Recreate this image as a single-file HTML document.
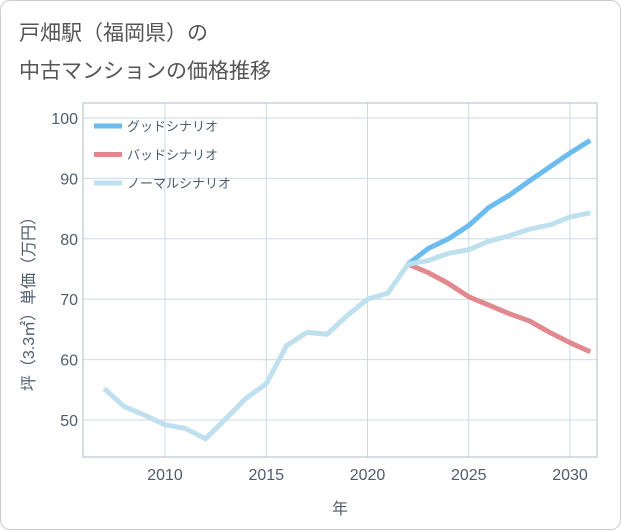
<!DOCTYPE html>
<html><head><meta charset="utf-8"><style>
body{margin:0;background:#fff;}
#c{position:relative;width:619px;height:528px;border:1px solid #ccc;border-radius:10px;background:#fff;overflow:hidden;font-family:"Liberation Sans","Noto Sans CJK JP",sans-serif;}
.t{position:absolute;left:18px;color:#555;font-size:21px;}
</style></head><body>
<div id="c">
<div class="t" style="top:16px">戸畑駅（福岡県）の</div>
<div class="t" style="top:54px">中古マンションの価格推移</div>
<svg id="s" width="621" height="530" style="position:absolute;left:-1px;top:-1px"></svg>
</div>
<script>
const yearsHist=[2007,2008,2009,2010,2011,2012,2013,2014,2015,2016,2017,2018,2019,2020,2021,2022];
const normalHist=[55.2,52.2,50.8,49.2,48.6,46.9,50.2,53.6,56.0,62.3,64.5,64.2,67.3,70.0,71.0,75.8];
const yearsFut=[2022,2023,2024,2025,2026,2027,2028,2029,2030,2031];
const good=[75.8,78.4,80.0,82.2,85.2,87.2,89.6,91.9,94.2,96.3];
const bad=[75.8,74.4,72.6,70.4,69.0,67.6,66.4,64.5,62.8,61.3];
const normalFut=[75.8,76.4,77.6,78.2,79.6,80.5,81.6,82.3,83.6,84.3];
const xTicks=[2010,2015,2020,2025,2030];
const yTicks=[50,60,70,80,90,100];
const L=83,R=597,T=103,B=457;
const X=v=>165+(v-2010)*20.25, Y=v=>420-(v-50)*6.04;
const s=document.getElementById('s');const NS='http://www.w3.org/2000/svg';
function el(t,a,n){const e=document.createElementNS(NS,t);for(const k in a)e.setAttribute(k,a[k]);s.appendChild(e);return e;}
xTicks.forEach(v=>{el('line',{x1:X(v),x2:X(v),y1:T,y2:B,stroke:'#ccdbe6','stroke-width':1},'x-grid');
 const t=el('text',{x:X(v),y:480,'text-anchor':'middle','font-size':16,fill:'#4e5d6c'},'x-tick-label');t.textContent=v;});
yTicks.forEach(v=>{el('line',{x1:L,x2:R,y1:Y(v),y2:Y(v),stroke:'#ccdbe6','stroke-width':1},'y-grid');
 const t=el('text',{x:78,y:Y(v)+6,'text-anchor':'end','font-size':16,fill:'#4e5d6c'},'y-tick-label');t.textContent=v;});
el('rect',{x:L,y:T,width:R-L,height:B-T,fill:'none',stroke:'#b0bcc6','stroke-width':1},'plot-frame');
function line(xs,ys,c,n){el('polyline',{points:xs.map((x,i)=>X(x)+','+Y(ys[i])).join(' '),fill:'none',stroke:c,'stroke-width':5,'stroke-linejoin':'round'},n);}
line(yearsFut,bad,'#e08a8f','bad-line');
line(yearsFut,good,'#6dbcf0','good-line');
line(yearsFut,normalFut,'#bfe0ee','normal-future-line');
line(yearsHist,normalHist,'#bfe0ee','normal-history-line');
[['グッドシナリオ','#6dbcf0'],['バッドシナリオ','#e08a8f'],['ノーマルシナリオ','#bfe0ee']].forEach((d,i)=>{const y=126+i*28.5;
 el('line',{x1:94,x2:122,y1:y,y2:y,stroke:d[1],'stroke-width':5},'legend-swatch');
 const t=el('text',{x:127,y:y+5,'font-size':13,fill:'#4e5d6c'},'legend-entry');t.textContent=d[0];});
const xt=el('text',{x:340,y:514,'text-anchor':'middle','font-size':16,fill:'#4e5d6c'},'x-axis-title');xt.textContent='年';
const yt=el('text',{x:0,y:0,'text-anchor':'middle','font-size':16,fill:'#4e5d6c',transform:'translate(34,300) rotate(-90)'},'y-axis-title');yt.textContent='坪（3.3㎡）単価（万円）';
</script>
</body></html>
